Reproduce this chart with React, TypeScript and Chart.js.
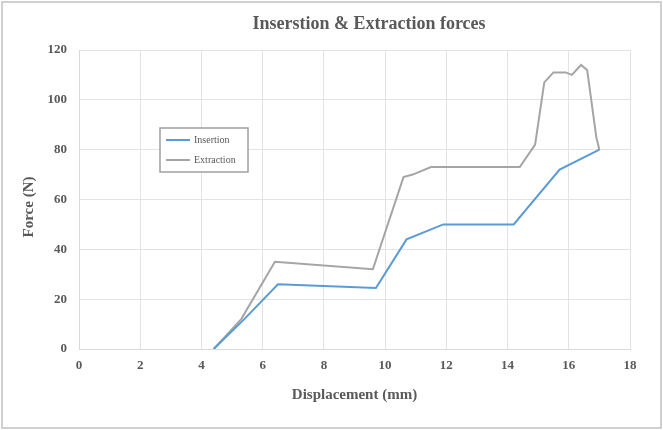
import React, { useEffect, useRef } from "react";
import { Chart, registerables } from "chart.js";

Chart.register(...registerables);

const chartTitle = "Inserstion & Extraction forces";
const xAxisTitle = "Displacement (mm)";
const yAxisTitle = "Force (N)";
const seriesNames = ["Insertion", "Extraction"];

const insertionX = [4.4, 5.4, 6.5, 9.7, 10.7, 11.9, 14.2, 15.7, 17.0];
const insertionY = [0, 12, 26, 24.5, 44, 50, 50, 72, 80];

const extractionX = [4.4, 5.3, 6.4, 9.6, 10.6, 10.9, 11.5, 14.4, 14.9, 15.2, 15.5, 15.9, 16.1, 16.4, 16.6, 16.9, 17.0];
const extractionY = [0, 12, 35, 32, 69, 70, 73, 73, 82, 107, 111, 111, 110, 114, 112, 85, 80];

const xMin = 0, xMax = 18, xStep = 2;
const yMin = 0, yMax = 120, yStep = 20;

const BLUE = "#5b9bd5";
const GRAY = "#a5a5a5";
const TEXT = "#595959";
const FONT = "'Liberation Serif', 'DejaVu Serif', serif";

const decorPlugin = {
  id: "decor",
  afterDraw(chart: any) {
    const ctx = chart.ctx;
    const area = chart.chartArea;
    ctx.save();
    ctx.strokeStyle = "#d0d0d0";
    ctx.lineWidth = 2;
    ctx.strokeRect(2, 2, chart.width - 4, chart.height - 4);
    ctx.fillStyle = TEXT;
    ctx.textAlign = "center";
    ctx.textBaseline = "middle";
    ctx.font = `bold 18px ${FONT}`;
    ctx.fillText(chartTitle, 369, 24);
    ctx.font = `bold 15px ${FONT}`;
    ctx.fillText(xAxisTitle, (area.left + area.right) / 2, 395);
    ctx.save();
    ctx.translate(29, 207);
    ctx.rotate(-Math.PI / 2);
    ctx.fillText(yAxisTitle, 0, 0);
    ctx.restore();
    const lx = 160, ly = 128, lw = 88, lh = 44;
    ctx.fillStyle = "#ffffff";
    ctx.fillRect(lx, ly, lw, lh);
    ctx.strokeStyle = "#a0a0a0";
    ctx.lineWidth = 1.5;
    ctx.strokeRect(lx, ly, lw, lh);
    const items = [
      { name: seriesNames[0], color: BLUE, y: ly + 12 },
      { name: seriesNames[1], color: GRAY, y: ly + 32 },
    ];
    ctx.font = `10px ${FONT}`;
    ctx.textAlign = "left";
    items.forEach((it) => {
      ctx.strokeStyle = it.color;
      ctx.lineWidth = 2;
      ctx.beginPath();
      ctx.moveTo(lx + 6, it.y);
      ctx.lineTo(lx + 30, it.y);
      ctx.stroke();
      ctx.fillStyle = TEXT;
      ctx.fillText(it.name, lx + 34, it.y);
    });
    ctx.restore();
  },
};

export default function App() {
  const ref = useRef<HTMLCanvasElement>(null);
  useEffect(() => {
    document.body.style.margin = "0";
    const canvas = ref.current!;
    const chart = new Chart(canvas, {
      type: "scatter",
      data: {
        datasets: [
          {
            label: seriesNames[0],
            data: insertionX.map((x, i) => ({ x, y: insertionY[i] })),
            showLine: true,
            borderColor: BLUE,
            backgroundColor: BLUE,
            borderWidth: 2,
            pointRadius: 0,
          },
          {
            label: seriesNames[1],
            data: extractionX.map((x, i) => ({ x, y: extractionY[i] })),
            showLine: true,
            borderColor: GRAY,
            backgroundColor: GRAY,
            borderWidth: 2,
            pointRadius: 0,
          },
        ],
      },
      options: {
        animation: false,
        responsive: false,
        devicePixelRatio: 1,
        layout: { padding: { left: 0, right: 33, top: 50, bottom: 0 } },
        plugins: { legend: { display: false }, tooltip: { enabled: false }, title: { display: false } },
        scales: {
          x: {
            type: "linear",
            min: xMin,
            max: xMax,
            ticks: { stepSize: xStep, color: TEXT, font: { family: FONT, size: 13, weight: "bold" }, padding: 9, maxRotation: 0 },
            grid: { color: "#e3e3e3", drawTicks: false },
            border: { color: "#d9d9d9" },
            afterFit: (s: any) => { s.height = 81; },
          },
          y: {
            type: "linear",
            min: yMin,
            max: yMax,
            ticks: { stepSize: yStep, color: TEXT, font: { family: FONT, size: 13, weight: "bold" }, padding: 12 },
            grid: { color: "#e3e3e3", drawTicks: false },
            border: { color: "#d9d9d9" },
            afterFit: (s: any) => { s.width = 79; },
          },
        },
      },
      plugins: [decorPlugin],
    } as any);
    return () => chart.destroy();
  }, []);
  return (
    <div style={{ position: "absolute", left: 0, top: 0, width: 663, height: 430, background: "#fff" }}>
      <canvas ref={ref} width={663} height={430} style={{ width: 663, height: 430 }} />
    </div>
  );
}
